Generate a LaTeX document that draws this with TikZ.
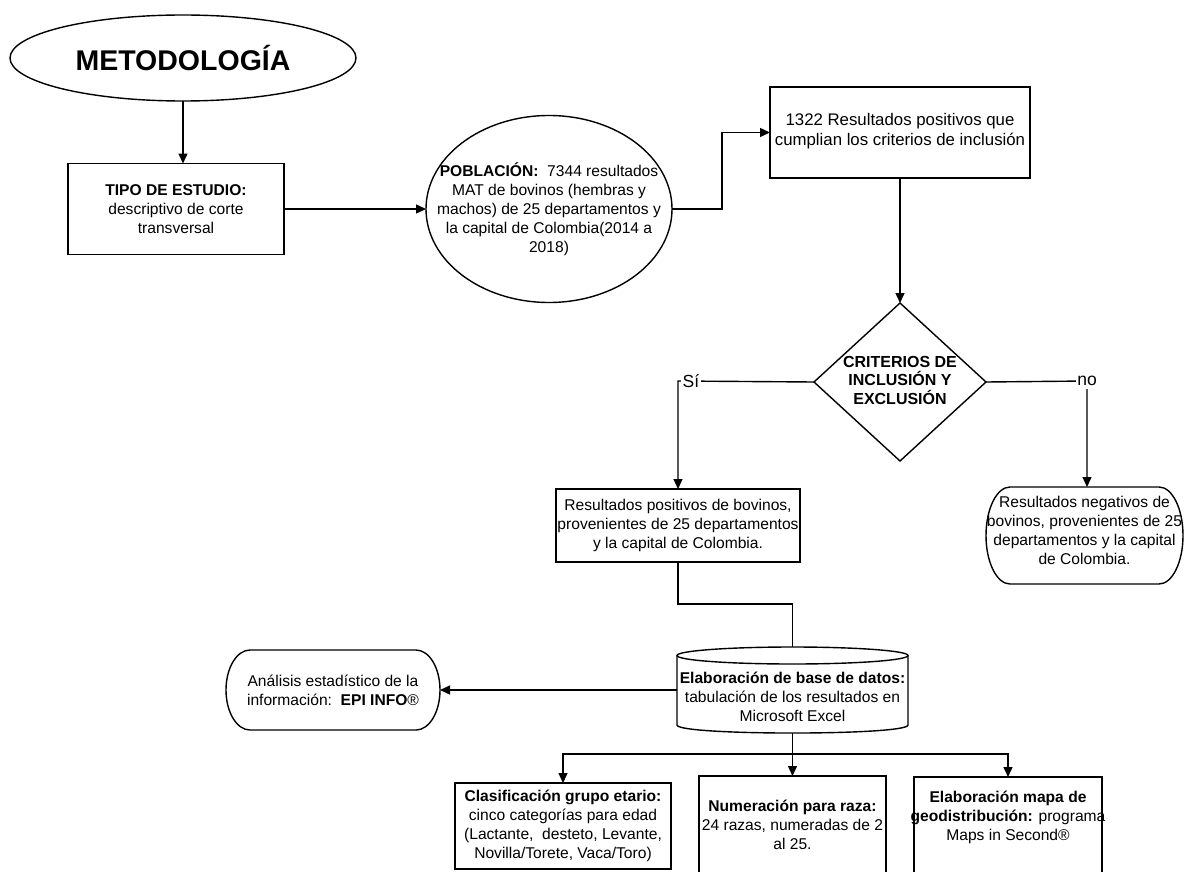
\documentclass[tikz,border=0pt]{standalone}
\usepackage{fontspec}
\setmainfont{Liberation Sans}
\usetikzlibrary{shapes.geometric,arrows.meta}
\newcommand{\termshape}[5]{% cx, cy, w, h, d
  \pgfmathsetmacro{\tL}{#1-#3/2}\pgfmathsetmacro{\tR}{#1+#3/2}%
  \pgfmathsetmacro{\tT}{#2-#4/2}\pgfmathsetmacro{\tB}{#2+#4/2}%
  \pgfmathsetmacro{\tk}{0.552*#5}\pgfmathsetmacro{\tv}{0.552*#4/2}%
  \draw[line, fill=white] ({\tL+#5},\tT) -- ({\tR-#5},\tT)
    .. controls ({\tR-#5+\tk},\tT) and (\tR,{#2-\tv}) .. (\tR,#2)
    .. controls (\tR,{#2+\tv}) and ({\tR-#5+\tk},\tB) .. ({\tR-#5},\tB)
    -- ({\tL+#5},\tB)
    .. controls ({\tL+#5-\tk},\tB) and (\tL,{#2+\tv}) .. (\tL,#2)
    .. controls (\tL,{#2-\tv}) and ({\tL+#5-\tk},\tT) .. ({\tL+#5},\tT) -- cycle;}
\begin{document}
\begin{tikzpicture}[x=1pt,y=-1pt,
  every node/.style={inner sep=0pt, outer sep=0pt},
  txt/.style={font=\fontsize{15.6}{19}\selectfont, align=center},
  line/.style={line width=1.4pt, draw=black},
  arr/.style={line, -{Triangle[length=10pt,width=9pt]}},
  box/.style={draw, line width=1.4pt, rectangle},
  oval/.style={draw, line width=1.4pt, ellipse},
  lab/.style={font=\fontsize{17.5}{20}\selectfont, fill=white, inner xsep=1.5pt, inner ysep=3pt}
]
\useasboundingbox (0,0) rectangle (1185,872);
\clip (0,0) rectangle (1185,872);
\fill[white] (0,0) rectangle (1185,872);

% shapes
\node[oval, minimum width=346pt, minimum height=86pt] (met) at (183,58) {};
\node[font=\fontsize{28.5}{32}\selectfont\bfseries] (metT) at (met.center) {METODOLOGÍA};

\node[box, minimum width=216pt, minimum height=91pt] (tipo) at (176,209) {};
\node[txt] (tipoT) at (tipo.center) {\textbf{TIPO DE ESTUDIO:}\\descriptivo de corte\\transversal};

\node[oval, minimum width=246pt, minimum height=187pt] (pob) at (549,209) {};
\node[txt] (pobT) at (pob.center) {\textbf{POBLACIÓN:}\ \ 7344 resultados\\MAT de bovinos (hembras y\\machos) de 25 departamentos y\\la capital de Colombia(2014 a\\2018)};

\node[box, minimum width=260pt, minimum height=91pt] (r1322) at (900,132.5) {};
\node[txt, font=\fontsize{16.8}{20}\selectfont] (r1322T) at (900,131) {1322 Resultados positivos que\\cumplian los criterios de inclusión};

\node[draw, line width=1.4pt, diamond, minimum width=172pt, minimum height=158pt] (dia) at (900,382) {};
\node[txt, font=\fontsize{16}{18.5}\selectfont\bfseries] (diaT) at (900,380) {CRITERIOS DE\\INCLUSIÓN Y\\EXCLUSIÓN};

\node[box, minimum width=244pt, minimum height=73pt] (resP) at (678,525.5) {};
\node[txt] (resPT) at (resP.center) {Resultados positivos de bovinos,\\provenientes de 25 departamentos\\y la capital de Colombia.};

\node[minimum width=197pt, minimum height=97pt] (resN) at (1084.5,535.5) {};
\termshape{1084.5}{535.5}{197}{97}{24}
\node[txt] (resNT) at (1084.5,530) {Resultados negativos de\\bovinos, provenientes de 25\\departamentos y la capital\\de Colombia.};

% database cylinder
\node[minimum width=231pt, minimum height=86pt] (db) at (792.5,690) {};
\draw[line, fill=white] (677,655.5) -- (677,725) .. controls (677,735.7) and (908,735.7) .. (908,725) -- (908,655.5);
\draw[line] (792.5,655.5) ellipse [x radius=115.5, y radius=8.5];
\node[txt] (dbT) at (792.5,697) {\textbf{Elaboración de base de datos:}\\tabulación de los resultados en\\Microsoft Excel};

\node[minimum width=214pt, minimum height=80pt] (an) at (333,690) {};
\termshape{333}{690}{214}{80}{24}
\node[txt] (anT) at (an.center) {Análisis estadístico de la\\información:\ \ \textbf{EPI INFO}®};

\node[box, minimum width=216pt, minimum height=86pt] (b1) at (563,826) {};
\node[txt] (b1T) at (b1.center) {\textbf{Clasificación grupo etario:}\\cinco categorías para edad\\(Lactante,\ \ desteto, Levante,\\Novilla/Torete, Vaca/Toro)};

\node[box, minimum width=187pt, minimum height=110pt] (b2) at (792.5,831) {};
\node[txt] (b2T) at (792.5,825) {\textbf{Numeración para raza:}\\24 razas, numeradas de 2\\al 25.};

\node[box, minimum width=188pt, minimum height=110pt] (b3) at (1008,832) {};
\node[txt] (b3T) at (1008,817) {\textbf{Elaboración mapa de}\\\textbf{geodistribución:} programa\\Maps in Second®};

% connectors
\coordinate (c1) at (722,0);
\coordinate (j1) at (0,604);
\coordinate (j2) at (0,754);
\coordinate (noC) at (1087,381);
\coordinate (siC) at (678,381);

\draw[arr] (met.south) -- (met.south |- tipo.north);
\draw[arr] (tipo.east) -- (pob.west);
\draw[arr] (pob.east) -| (c1 |- r1322.west) -- (r1322.west);
\draw[arr] (r1322.south) -- (dia.north);
\draw[arr] (dia.west) -- (siC) -- (resP.north);
\draw[arr] (dia.east) -- (noC) -- (noC |- resN.north);
\node[lab] (si) at (691,381) {Sí};
\node[lab] (no) at (noC) {no};
\draw[line] (resP.south) |- (db.north |- j1) -- (db.north);
\draw[arr] (db.west) -- (an.east);
\draw[arr] (db.south) |- (b1.north |- j2) -- (b1.north);
\draw[arr] (db.south) |- (b3.north |- j2) -- (b3.north);
\draw[arr] (db.south) -- (b2.north);
\end{tikzpicture}
\end{document}
